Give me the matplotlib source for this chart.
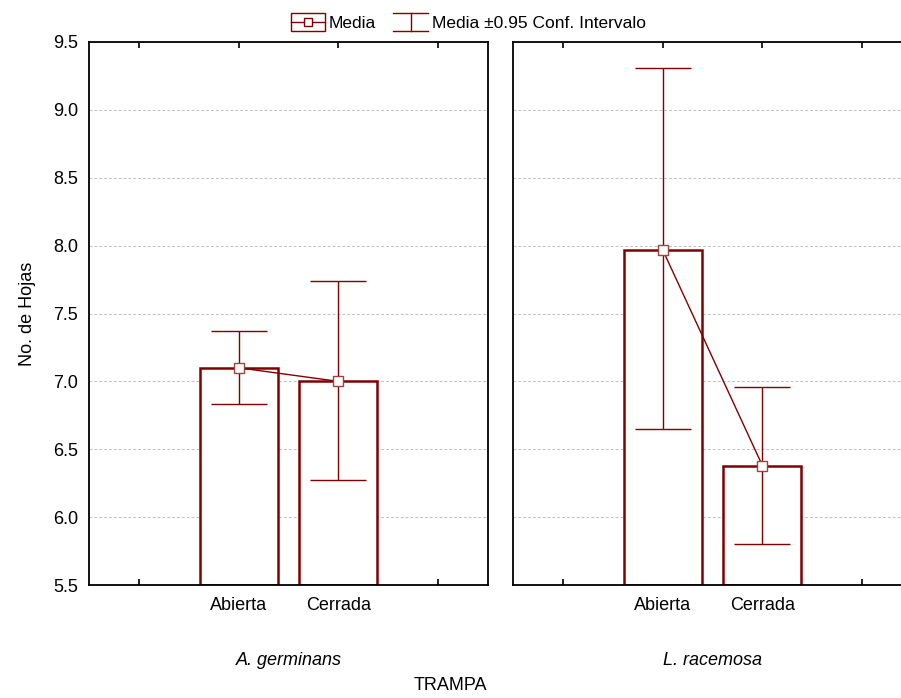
import numpy as np
import matplotlib
matplotlib.use("Agg")
import matplotlib.pyplot as plt
from matplotlib.lines import Line2D
from matplotlib.patches import Rectangle
from matplotlib.legend_handler import HandlerBase

plt.rcParams['font.family'] = ['Liberation Sans', 'DejaVu Sans']

# --- data ---
species = ["A. germinans", "L. racemosa"]
trampa = ["Abierta", "Cerrada"]
media = [[7.10, 7.00], [7.97, 6.38]]
ci_low = [[6.83, 6.27], [6.65, 5.80]]
ci_high = [[7.37, 7.74], [9.31, 6.96]]
yticks = [5.5, 6.0, 6.5, 7.0, 7.5, 8.0, 8.5, 9.0, 9.5]

red = "#800000"


class HandlerMedia(HandlerBase):
    # box with a line and a square marker through the middle
    def create_artists(self, legend, orig_handle, xdescent, ydescent,
                       width, height, fontsize, trans):
        x0, y0 = -xdescent, -ydescent
        rect = Rectangle((x0, y0), width, height, facecolor="white",
                         edgecolor=red, linewidth=1.0, transform=trans)
        line = Line2D([x0, x0 + width], [y0 + height / 2] * 2, color=red,
                      linewidth=1.0, transform=trans)
        mark = Line2D([x0 + width / 2], [y0 + height / 2], marker="s",
                      markersize=6, markerfacecolor="white",
                      markeredgecolor=red, markeredgewidth=1.0,
                      linestyle="none", transform=trans)
        return [rect, line, mark]


class HandlerCI(HandlerBase):
    # I-shaped whisker
    def create_artists(self, legend, orig_handle, xdescent, ydescent,
                       width, height, fontsize, trans):
        x0, y0 = -xdescent, -ydescent
        top = Line2D([x0, x0 + width], [y0 + height] * 2, color=red,
                     linewidth=1.0, transform=trans)
        bot = Line2D([x0, x0 + width], [y0] * 2, color=red,
                     linewidth=1.0, transform=trans)
        mid = Line2D([x0 + width / 2] * 2, [y0, y0 + height], color=red,
                     linewidth=1.0, transform=trans)
        return [top, bot, mid]


fig = plt.figure(figsize=(9.01, 6.98), dpi=100)
ax_l = fig.add_axes([89 / 901, 1 - 585 / 698, 399 / 901, 543 / 698])
ax_r = fig.add_axes([513 / 901, 1 - 585 / 698, 399 / 901, 543 / 698])

x = np.array([1, 2])
for i, ax in enumerate([ax_l, ax_r]):
    m = np.array(media[i])
    lo = np.array(ci_low[i])
    hi = np.array(ci_high[i])
    ax.bar(x, m - 5.5, bottom=5.5, width=0.78, facecolor="white",
           edgecolor=red, linewidth=1.8, zorder=2)
    ax.errorbar(x, m, yerr=[m - lo, hi - m], fmt="none", ecolor=red,
                elinewidth=1.0, capsize=20, capthick=1.0, zorder=3)
    ax.plot(x, m, color=red, linewidth=1.0, marker="s", markersize=6.5,
            markerfacecolor="white", markeredgecolor="#a04040",
            markeredgewidth=1.0, zorder=4)

    ax.set_xlim(-0.5, 3.5)
    ax.set_ylim(5.5, 9.5)
    ax.set_yticks(yticks)
    ax.set_xticks([0, 1, 2, 3])
    ax.set_xticklabels(["", trampa[0], trampa[1], ""], fontsize=13)
    ax.tick_params(axis="x", direction="in", length=4, width=1.2, top=True,
                   pad=9)
    ax.tick_params(axis="y", direction="in", length=0, pad=8, labelsize=13)
    ax.grid(axis="y", color="#c0c0c0", linestyle=(0, (3, 2)), linewidth=0.7)
    ax.set_axisbelow(True)
    for s in ax.spines.values():
        s.set_linewidth(1.3)
        s.set_color("black")
    ax.set_xlabel(species[i], fontsize=13, style="italic", labelpad=27)

ax_r.tick_params(axis="y", labelleft=False)
ax_l.set_ylabel("No. de Hojas", fontsize=13, labelpad=12)

fig.text(450 / 901, 1 - 686 / 698, "TRAMPA", ha="center", va="center",
         fontsize=13)

# legend with hand-made handles
h1, h2 = object(), object()
fig.legend([h1, h2], ["Media", "Media \u00b10.95 Conf. Intervalo"],
           handler_map={h1: HandlerMedia(), h2: HandlerCI()}, loc="center",
           bbox_to_anchor=(468 / 901, 1 - 22 / 698), ncol=2,
           frameon=False, fontsize=12.5, handlelength=2.0, handleheight=1.3,
           handletextpad=0.2, columnspacing=1.0, borderpad=0)

fig.savefig("out.png", dpi=100)
